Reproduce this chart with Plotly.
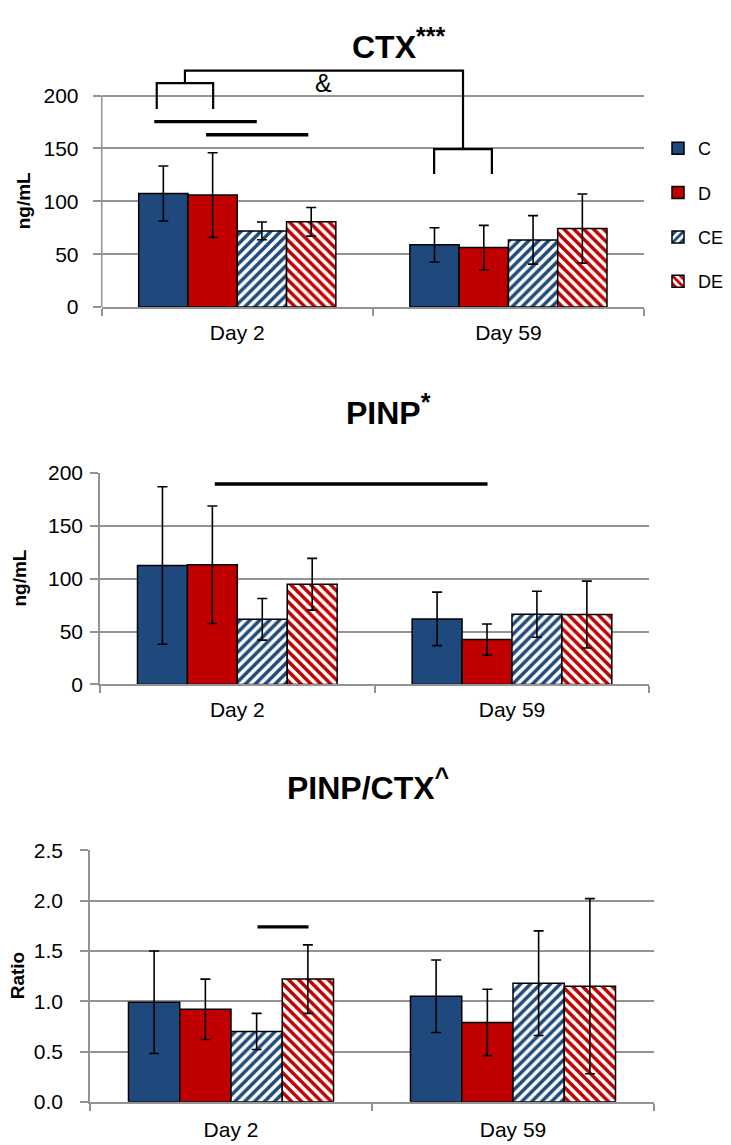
import plotly.graph_objects as go

categories = ["Day 2", "Day 59"]
groups = ["C", "D", "CE", "DE"]

# CTX (ng/mL)
ctx_C = [107.4, 58.8]
ctx_C_sd = [26.0, 16.2]
ctx_D = [105.9, 56.2]
ctx_D_sd = [40.0, 21.0]
ctx_CE = [72.0, 63.5]
ctx_CE_sd = [8.4, 22.9]
ctx_DE = [80.6, 74.2]
ctx_DE_sd = [13.5, 32.7]

# PINP (ng/mL)
pinp_C = [112.5, 62.0]
pinp_C_sd = [74.5, 25.3]
pinp_D = [113.2, 42.4]
pinp_D_sd = [55.6, 14.7]
pinp_CE = [61.6, 66.4]
pinp_CE_sd = [19.7, 21.7]
pinp_DE = [94.8, 66.1]
pinp_DE_sd = [24.5, 31.6]

# PINP/CTX ratio
ratio_C = [0.99, 1.05]
ratio_C_sd = [0.51, 0.36]
ratio_D = [0.92, 0.79]
ratio_D_sd = [0.30, 0.33]
ratio_CE = [0.70, 1.18]
ratio_CE_sd = [0.18, 0.52]
ratio_DE = [1.22, 1.15]
ratio_DE_sd = [0.34, 0.87]

W, H = 731, 1145
# the page shows the figure with a small offset (and a slight vertical squeeze);
# these helpers place layout items where the reference has them
SY = 0.978
OFFX, OFFY = 8.0, 20.0


def px(p):
    return (p - OFFX) / W


def py(p):
    return 1 - (p / SY - OFFY) / H


BLUE = "#1F497D"
RED = "#C00000"
GRID = "#939393"
FAM = "Liberation Sans, Arial, sans-serif"
TICKFONT = dict(family=FAM, size=21, color="black")

styles = {
    "C": dict(color=BLUE, pattern=None),
    "D": dict(color=RED, pattern=None),
    "CE": dict(color="white", pattern=dict(shape="/", fgcolor=BLUE, bgcolor="white",
                                          size=7, solidity=0.5, fillmode="replace")),
    "DE": dict(color="white", pattern=dict(shape="\\", fgcolor=RED, bgcolor="white",
                                          size=7, solidity=0.5, fillmode="replace")),
}

panels = [
    ("x", "y", {"C": (ctx_C, ctx_C_sd), "D": (ctx_D, ctx_D_sd),
                "CE": (ctx_CE, ctx_CE_sd), "DE": (ctx_DE, ctx_DE_sd)}),
    ("x2", "y2", {"C": (pinp_C, pinp_C_sd), "D": (pinp_D, pinp_D_sd),
                  "CE": (pinp_CE, pinp_CE_sd), "DE": (pinp_DE, pinp_DE_sd)}),
    ("x3", "y3", {"C": (ratio_C, ratio_C_sd), "D": (ratio_D, ratio_D_sd),
                  "CE": (ratio_CE, ratio_CE_sd), "DE": (ratio_DE, ratio_DE_sd)}),
]

fig = go.Figure()
for pi, (xa, ya, data) in enumerate(panels):
    for g in groups:
        vals, sd = data[g]
        st = styles[g]
        marker = dict(color=st["color"], line=dict(color="black", width=1.5))
        if st["pattern"]:
            marker["pattern"] = st["pattern"]
        fig.add_trace(go.Bar(
            x=categories, y=vals, name=g, xaxis=xa, yaxis=ya,
            marker=marker, legendgroup=g, showlegend=(pi == 0),
            error_y=dict(type="data", array=sd, visible=True, color="black",
                         thickness=1.6, width=5),
        ))


def xaxis(domain, anchor, standoff):
    return dict(domain=domain, anchor=anchor, type="category", tickson="boundaries",
                ticks="outside", ticklen=7, tickwidth=1.5, tickcolor=GRID,
                showline=True, linecolor=GRID, linewidth=1.5, showgrid=False,
                tickfont=TICKFONT, ticklabelstandoff=standoff, fixedrange=True)


def yaxis(domain, anchor, rng, tickvals, fmt, showline, standoff):
    return dict(domain=domain, anchor=anchor, range=rng, tickvals=tickvals, tickformat=fmt,
                ticks="outside", ticklen=8, tickwidth=1.5, tickcolor=GRID,
                showgrid=True, gridcolor=GRID, gridwidth=1.5, zeroline=False,
                showline=showline, linecolor=GRID, linewidth=1.5,
                tickfont=TICKFONT, ticklabelstandoff=standoff)


# panel 1 y range extends above 200 to hold the brackets
p1_top = 306 - 230 * (211 / 200)

fig.update_layout(
    width=W, height=H, margin=dict(l=0, r=0, t=0, b=0),
    paper_bgcolor="white", plot_bgcolor="white",
    barmode="group", bargap=0.273, bargroupgap=0,
    showlegend=True,
    legend=dict(x=650 / W, y=0.902, xanchor="left", yanchor="top",
                font=dict(family=FAM, size=18, color="black"),
                tracegroupgap=18, bgcolor="rgba(0,0,0,0)"),
    xaxis=xaxis([px(101.7), px(644)], "y", 6),
    yaxis=yaxis([py(306), py(p1_top)], "x", [0, 230], [0, 50, 100, 150, 200], "d", False, 10),
    xaxis2=xaxis([px(100), px(649.3)], "y2", 6),
    yaxis2=yaxis([py(682.7), py(471.7)], "x2", [0, 200], [0, 50, 100, 150, 200], "d", True, 3),
    xaxis3=xaxis([px(90), px(654)], "y3", 8),
    yaxis3=yaxis([py(1099.3), py(848.3)], "x3", [0, 2.5], [0, 0.5, 1.0, 1.5, 2.0, 2.5], ".1f", True, 13),
)

# significance markers (data coordinates)
BLK = dict(color="black", width=2.2)
THICK = dict(color="black", width=3.4)
ctx_bracket_left = [-0.297, -0.089]
ctx_bracket_right = [0.726, 0.939]
ctx_bracket_y = [187.4, 211.7, 125.8, 149.3, 223.7]
ctx_bars = [(-0.306, 0.072, 175.4), (-0.115, 0.262, 163.0)]
pinp_bars = [(-0.082, 0.911, 189.6)]
ratio_bars = [(0.094, 0.275, 1.739)]

l0, l1 = ctx_bracket_left
r0, r1 = ctx_bracket_right
lo_l, hi_l, lo_r, hi_r, top = ctx_bracket_y
lm = (l0 + l1) / 2
rm = (r0 + r1) / 2
shapes = [
    dict(type="line", xref="x domain", yref="y", x0=0, x1=0, y0=0, y1=200,
         line=dict(color=GRID, width=1.5)),
    dict(type="path", xref="x", yref="y",
         path=f"M{l0},{lo_l} L{l0},{hi_l} L{l1},{hi_l} L{l1},{lo_l}", line=BLK),
    dict(type="path", xref="x", yref="y",
         path=f"M{r0},{lo_r} L{r0},{hi_r} L{r1},{hi_r} L{r1},{lo_r}", line=BLK),
    dict(type="path", xref="x", yref="y",
         path=f"M{lm},{hi_l} L{lm},{top} L{rm},{top} L{rm},{hi_r}", line=BLK),
]
for (a, b, yv) in ctx_bars:
    shapes.append(dict(type="line", xref="x", yref="y", x0=a, x1=b, y0=yv, y1=yv, line=THICK))
for (a, b, yv) in pinp_bars:
    shapes.append(dict(type="line", xref="x2", yref="y2", x0=a, x1=b, y0=yv, y1=yv, line=THICK))
for (a, b, yv) in ratio_bars:
    shapes.append(dict(type="line", xref="x3", yref="y3", x0=a, x1=b, y0=yv, y1=yv, line=THICK))
fig.update_layout(shapes=shapes)

TITLEFONT = dict(family=FAM, size=32, color="black")
AXTFONT = dict(family=FAM, size=19, color="black")
SUP = "<sup><span style='font-size:25px'>{}</span></sup>"
annotations = [
    dict(text="<b>CTX" + SUP.format("***") + "</b>", xref="paper", yref="paper", x=px(399),
         y=1.0, showarrow=False, font=TITLEFONT, xanchor="center", yanchor="top"),
    dict(text="<b>PINP" + SUP.format("*") + "</b>", xref="paper", yref="paper", x=px(388),
         y=py(408), showarrow=False, font=TITLEFONT, xanchor="center", yanchor="middle"),
    dict(text="<b>PINP/CTX" + SUP.format("^") + "</b>", xref="paper", yref="paper", x=px(368),
         y=py(783), showarrow=False, font=TITLEFONT, xanchor="center", yanchor="middle"),
    dict(text="<b>ng/mL</b>", xref="paper", yref="paper", x=px(23.5), y=py(200),
         textangle=-90, showarrow=False, font=AXTFONT, xanchor="center", yanchor="middle"),
    dict(text="<b>ng/mL</b>", xref="paper", yref="paper", x=px(20), y=py(577),
         textangle=-90, showarrow=False, font=AXTFONT, xanchor="center", yanchor="middle"),
    dict(text="<b>Ratio</b>", xref="paper", yref="paper", x=px(17.5), y=py(973.5),
         textangle=-90, showarrow=False, font=AXTFONT, xanchor="center", yanchor="middle"),
    dict(text="&", xref="x", yref="y", x=0.317, y=212.3, showarrow=False,
         font=dict(family=FAM, size=25, color="black"),
         xanchor="center", yanchor="middle"),
]
fig.update_layout(annotations=annotations)

fig.write_html("out.html")
